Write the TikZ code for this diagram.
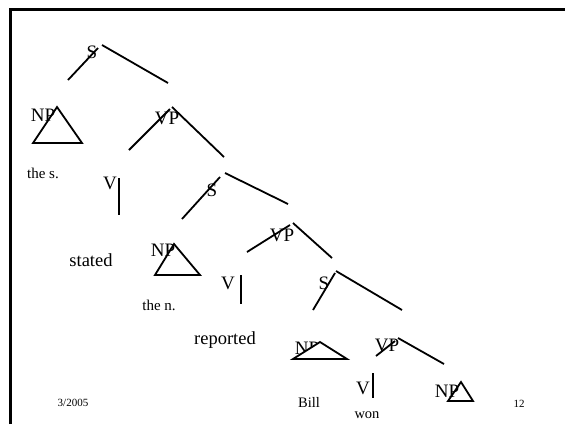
\documentclass[tikz,border=0pt]{standalone}
\usepackage{fontspec}
\setmainfont{Liberation Serif}
\begin{document}
\begin{tikzpicture}[x=1pt,y=-1pt,
  cat/.style={font=\fontsize{19}{19}\selectfont, inner sep=0pt},
  word/.style={font=\fontsize{18.5}{18.5}\selectfont, inner sep=0pt},
  smallword/.style={font=\fontsize{15}{15}\selectfont, inner sep=0pt},
  leafword/.style={font=\fontsize{14.5}{14.5}\selectfont, inner sep=0pt},
  footer/.style={font=\fontsize{11}{11}\selectfont, inner sep=0pt},
  branch/.style={line width=1.8pt},
  tri/.style={line width=1.8pt, line join=miter},
  frame/.style={line width=3pt}]
\useasboundingbox (0,0) rectangle (565,424);

% frame
\coordinate (fbl) at (10,424);
\coordinate (ftl) at (10,9);
\coordinate (ftr) at (565,9);
\draw[frame] (fbl) -- (ftl) -- (ftr);

% labels
\node[cat] (s1) at (92,52) {S};
\node[cat] (np1) at (43,115) {NP};
\node[smallword] (w1) at (43,173) {the s.};
\node[cat] (vp1) at (167,118) {VP};
\node[cat] (v1) at (110,183) {V};
\node[word] (w2) at (91,260) {stated};
\node[cat] (s2) at (212,190) {S};
\node[cat] (np2) at (163,250) {NP};
\node[smallword] (w3) at (159,305) {the n.};
\node[cat] (vp2) at (282,235) {VP};
\node[cat] (v2) at (228,283) {V};
\node[word] (w4) at (225,340) {reported};
\node[cat] (s3) at (324,283) {S};
\node[cat] (np3) at (307,348) {NP};
\node[leafword] (w5) at (309,402) {Bill};
\node[cat] (vp3) at (387,345) {VP};
\node[cat] (v3) at (363,388) {V};
\node[leafword] (w6) at (367,415) {won};
\node[cat] (np4) at (447,391) {NP};
\node[footer] (date) at (73,403) {3/2005};
\node[footer] (page) at (519,404) {12};

% branch end points
\coordinate (s1a) at (68,80);   \coordinate (s1b) at (98,48);
\coordinate (s1c) at (102,45);  \coordinate (s1d) at (168,83);
\coordinate (vp1a) at (129,150); \coordinate (vp1b) at (170,109);
\coordinate (vp1c) at (172,107); \coordinate (vp1d) at (224,157);
\coordinate (v1a) at (119,178);  \coordinate (v1b) at (119,215);
\coordinate (s2a) at (182,219);  \coordinate (s2b) at (220,177);
\coordinate (s2c) at (225,173);  \coordinate (s2d) at (288,204);
\coordinate (vp2a) at (247,252); \coordinate (vp2b) at (290,225);
\coordinate (vp2c) at (293,223); \coordinate (vp2d) at (332,258);
\coordinate (v2a) at (241,275);  \coordinate (v2b) at (241,304);
\coordinate (s3a) at (313,310);  \coordinate (s3b) at (335,273);
\coordinate (s3c) at (336,271);  \coordinate (s3d) at (402,310);
\coordinate (vp3a) at (376,356); \coordinate (vp3b) at (395,341);
\coordinate (vp3c) at (398,338); \coordinate (vp3d) at (444,364);
\coordinate (v3a) at (373,373);  \coordinate (v3b) at (373,398);

\draw[branch] (s1a) -- (s1b);   \draw[branch] (s1c) -- (s1d);
\draw[branch] (vp1a) -- (vp1b); \draw[branch] (vp1c) -- (vp1d);
\draw[branch] (v1a) -- (v1b);
\draw[branch] (s2a) -- (s2b);   \draw[branch] (s2c) -- (s2d);
\draw[branch] (vp2a) -- (vp2b); \draw[branch] (vp2c) -- (vp2d);
\draw[branch] (v2a) -- (v2b);
\draw[branch] (s3a) -- (s3b);   \draw[branch] (s3c) -- (s3d);
\draw[branch] (vp3a) -- (vp3b); \draw[branch] (vp3c) -- (vp3d);
\draw[branch] (v3a) -- (v3b);

% triangles
\coordinate (t1a) at (57,107);  \coordinate (t1b) at (33,143);  \coordinate (t1c) at (82,143);
\coordinate (t2a) at (174,244); \coordinate (t2b) at (155,275); \coordinate (t2c) at (200,275);
\coordinate (t3a) at (320,342); \coordinate (t3b) at (293,359); \coordinate (t3c) at (347,359);
\coordinate (t4a) at (461,382); \coordinate (t4b) at (448,401); \coordinate (t4c) at (473,401);
\draw[tri] (t1a) -- (t1b) -- (t1c) -- cycle;
\draw[tri] (t2a) -- (t2b) -- (t2c) -- cycle;
\draw[tri, fill=white] (t3a) -- (t3b) -- (t3c) -- cycle;
\draw[tri] (t4a) -- (t4b) -- (t4c) -- cycle;
\end{tikzpicture}
\end{document}
